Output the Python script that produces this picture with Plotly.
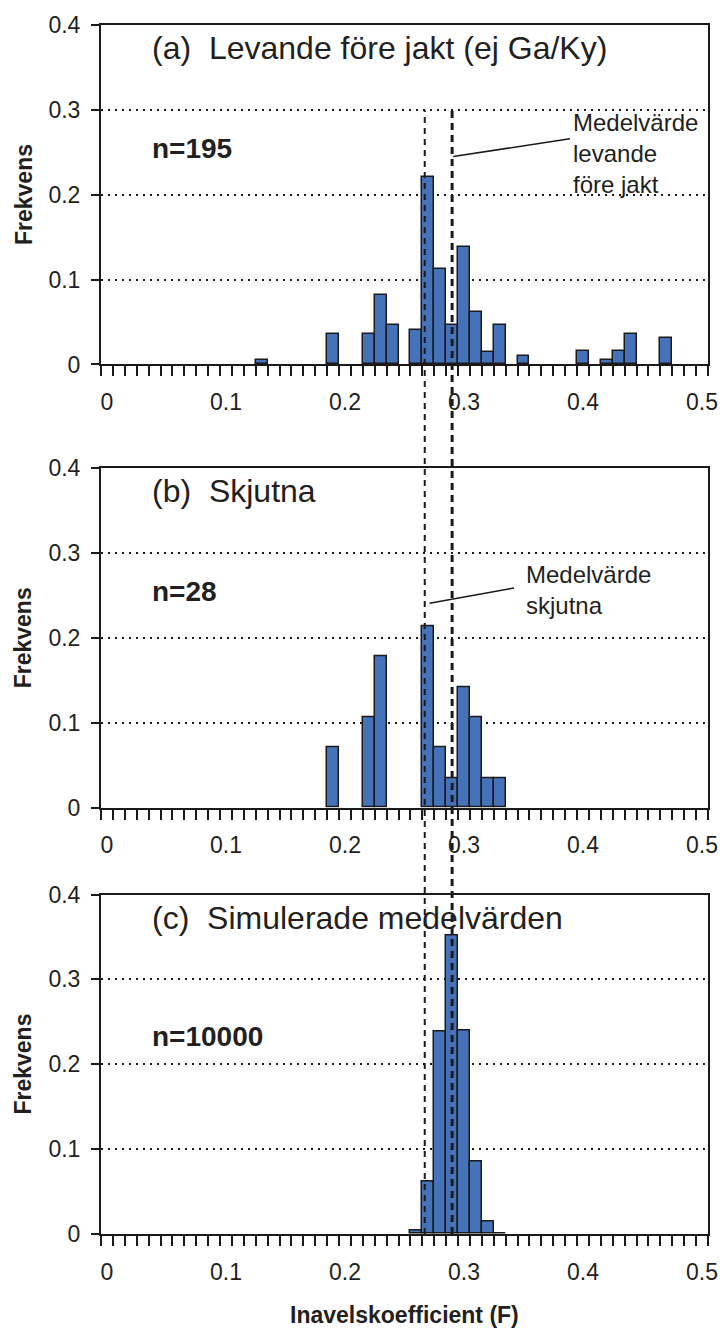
import plotly.graph_objects as go
from plotly.subplots import make_subplots

# Histogram data (bin centre, frequency)
living_bins = [0.13, 0.19, 0.22, 0.23, 0.24, 0.26, 0.27, 0.28, 0.29, 0.30,
               0.31, 0.32, 0.33, 0.35, 0.40, 0.42, 0.43, 0.44, 0.47]
living_freq = [0.005, 0.036, 0.036, 0.082, 0.046, 0.041, 0.221, 0.113, 0.046, 0.138,
               0.062, 0.015, 0.046, 0.010, 0.016, 0.005, 0.016, 0.036, 0.031]

shot_bins = [0.19, 0.22, 0.23, 0.27, 0.28, 0.29, 0.30, 0.31, 0.32, 0.33]
shot_freq = [0.071, 0.107, 0.178, 0.214, 0.071, 0.035, 0.142, 0.107, 0.035, 0.035]

sim_bins = [0.26, 0.27, 0.28, 0.29, 0.30, 0.31, 0.32, 0.33]
sim_freq = [0.004, 0.062, 0.238, 0.352, 0.240, 0.085, 0.015, 0.001]

# means shown as vertical dotted lines
mean_living = 0.29
mean_shot = 0.267

panel_titles = ["(a)\u00a0 Levande före jakt (ej Ga/Ky)", "(b)\u00a0 Skjutna", "(c)\u00a0 Simulerade medelvärden"]
panel_n = ["n=195", "n=28", "n=10000"]
x_tickvals = [0, 0.1, 0.2, 0.3, 0.4, 0.5]
x_ticktext = ["0", "0.1", "0.2", "0.3", "0.4", "0.5"]
y_tickvals = [0, 0.1, 0.2, 0.3, 0.4]
y_ticktext = ["0", "0.1", "0.2", "0.3", "0.4"]

FONT = "Liberation Sans, Arial, sans-serif"
TXT = "#231f20"
BAR = "#4672b9"

fig = make_subplots(rows=3, cols=1)

series = [(living_bins, living_freq), (shot_bins, shot_freq), (sim_bins, sim_freq)]
for i, (bx, by) in enumerate(series):
    fig.add_trace(
        go.Bar(x=bx, y=by, width=0.01, marker_color=BAR,
               marker_line=dict(color="#1a1a1a", width=1.5), showlegend=False),
        row=i + 1, col=1,
    )

domains = [[0.71924, 1.0], [0.35260, 0.63336], [0.0, 0.28076]]
for i in range(3):
    n = "" if i == 0 else str(i + 1)
    fig.layout["xaxis" + n].update(
        range=[-0.005, 0.505], tickmode="array", tickvals=x_tickvals, ticktext=x_ticktext,
        ticks="outside", ticklen=16, tickcolor="rgba(0,0,0,0)", ticklabeloverflow="allow",
        minor=dict(tick0=-0.005, dtick=0.01, ticks="outside", ticklen=10,
                   tickcolor="#1a1a1a", tickwidth=1.5, showgrid=False),
        showgrid=False, zeroline=False, showline=True, linecolor="#1a1a1a",
        linewidth=2, mirror=True,
        tickfont=dict(family=FONT, size=23, color=TXT),
    )
    fig.layout["yaxis" + n].update(
        domain=domains[i], range=[0, 0.4], tickmode="array", tickvals=y_tickvals,
        ticktext=y_ticktext, ticks="outside", ticklen=8, tickcolor="#1a1a1a", tickwidth=1.5,
        ticklabelstandoff=6,
        showgrid=True, gridcolor="#1a1a1a", griddash="2px,5px", gridwidth=1.5,
        zeroline=False, showline=True, linecolor="#1a1a1a", linewidth=2, mirror=True,
        tickfont=dict(family=FONT, size=23, color=TXT),
    )
    xd = "x" + n + " domain"
    yd = "y" + n + " domain"
    # panel title
    fig.add_annotation(text=panel_titles[i], xref=xd, yref=yd, x=0.080, y=0.932,
                       xanchor="left", yanchor="middle", showarrow=False,
                       font=dict(family=FONT, size=32, color=TXT))
    # sample size
    ny = 0.582 if i == 2 else 0.637
    fig.add_annotation(text="<b>" + panel_n[i] + "</b>", xref=xd, yref=yd, x=0.080, y=ny,
                       xanchor="left", yanchor="middle", showarrow=False,
                       font=dict(family=FONT, size=28, color=TXT))
    # y axis title
    fig.add_annotation(text="<b>Frekvens</b>", xref="paper", yref="paper", x=-0.128,
                       y=(domains[i][0] + domains[i][1]) / 2, xanchor="center", yanchor="middle",
                       textangle=-90, showarrow=False, font=dict(family=FONT, size=23, color=TXT))

# x axis title
fig.add_annotation(text="<b>Inavelskoefficient (F)</b>", xref="paper", yref="paper", x=0.5,
                   y=-0.067, xanchor="center", yanchor="middle", showarrow=False,
                   font=dict(family=FONT, size=23, color=TXT))

# vertical mean lines crossing all panels
top_a = domains[0][0] + 0.75 * (domains[0][1] - domains[0][0])
fig.add_shape(type="line", xref="x", yref="paper", x0=mean_shot, x1=mean_shot, y0=0, y1=top_a,
              line=dict(color="#1a1a1a", width=2, dash="6px,5px"))
fig.add_shape(type="line", xref="x", yref="paper", x0=mean_living, x1=mean_living, y0=0, y1=top_a,
              line=dict(color="#1a1a1a", width=3, dash="7px,5px"))

# leader lines and labels for the means
fig.add_shape(type="line", xref="x", yref="y", x0=0.291, y0=0.245, x1=0.389, y1=0.266,
              line=dict(color="#1a1a1a", width=1.5))
fig.add_annotation(text="Medelvärde<br>levande<br>före jakt", xref="x", yref="y", x=0.390,
                   y=0.248, xanchor="left", yanchor="middle", align="left", showarrow=False,
                   font=dict(family=FONT, size=24, color=TXT))
fig.add_shape(type="line", xref="x2", yref="y2", x0=0.271, y0=0.241, x1=0.342, y1=0.259,
              line=dict(color="#1a1a1a", width=1.5))
fig.add_annotation(text="Medelvärde<br>skjutna", xref="x2", yref="y2", x=0.3507,
                   y=0.2565, xanchor="left", yanchor="middle", align="left", showarrow=False,
                   font=dict(family=FONT, size=24, color=TXT))

fig.update_layout(
    width=730, height=1329,
    margin=dict(l=101, r=13, t=23, b=95),
    paper_bgcolor="white", plot_bgcolor="white",
    bargap=0, showlegend=False,
    font=dict(family=FONT, color=TXT),
)

# drop the default body margin and scrollbars so the figure sits at the page corner
page_fix = (
    "document.body.style.margin='0';"
    "document.body.style.overflow='hidden';"
    "document.documentElement.style.overflow='hidden';"
)
fig.write_html("out.html", post_script=page_fix, config={"displayModeBar": False})
